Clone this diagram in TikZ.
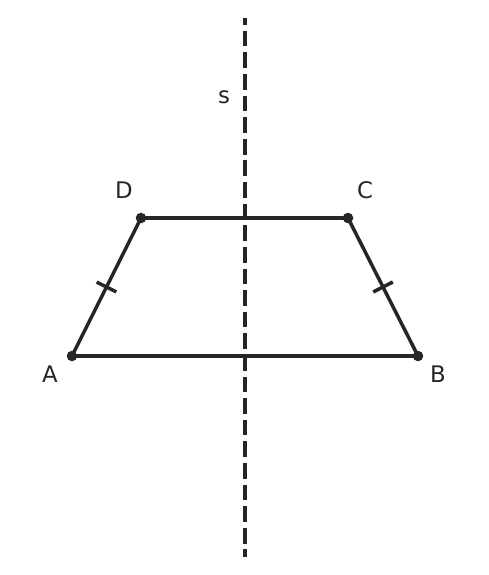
\documentclass[tikz,border=0pt]{standalone}
\usepackage{fontspec}
\setmainfont{DejaVu Sans}
\usetikzlibrary{calc}
\definecolor{ink}{HTML}{262626}
\tikzset{edge/.style={draw=ink, line width=2pt},
  vertex/.style={circle, fill=ink, inner sep=0pt, minimum size=6pt},
  lbl/.style={text=ink, font=\fontsize{13}{15}\selectfont}}

\begin{document}
\begin{tikzpicture}[x=0.02cm, y=-0.02cm]
\useasboundingbox (0,0) rectangle (489,575);
% symmetry axis
\coordinate (top) at (245,18);
\coordinate (bot) at (245,557);
\draw[edge, dash pattern=on 8.9pt off 3.4pt, dash phase=5pt] (top)--(bot);
\node[lbl] (s) at (224,97) {s};
% trapezoid
\coordinate (A) at (72,356);
\coordinate (B) at (418,356);
\coordinate (C) at (348,218);
\coordinate (D) at (141,218);
\draw[edge, line join=round] (A)--(B)--(C)--(D)--cycle;
\draw[edge] ($(A)!0.5!(D)!0.22cm!90:(D)$)--($(A)!0.5!(D)!0.22cm!-90:(D)$);
\draw[edge] ($(B)!0.5!(C)!0.22cm!90:(C)$)--($(B)!0.5!(C)!0.22cm!-90:(C)$);
\foreach \p in {A,B,C,D} \node[vertex] (v\p) at (\p) {};
\node[lbl] (lA) at (50,374) {A};
\node[lbl] (lB) at (438,374) {B};
\node[lbl] (lC) at (365,190) {C};
\node[lbl] (lD) at (124,190) {D};
\end{tikzpicture}
\end{document}
